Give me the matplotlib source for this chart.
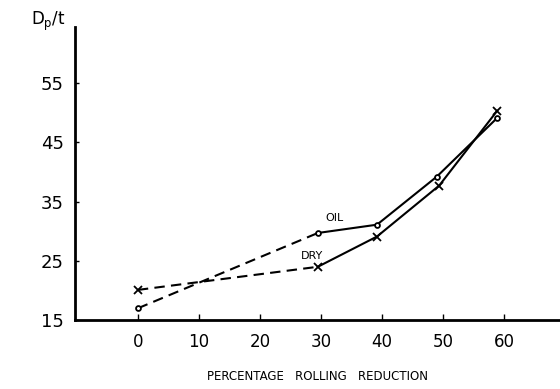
import matplotlib
matplotlib.use("Agg")
import matplotlib.pyplot as plt

# Data
oil_x = [0, 29.5, 39.2, 49.0, 58.9]
oil_y = [17.0, 29.7, 31.1, 39.2, 49.1]
dry_x = [0, 29.5, 39.2, 49.4, 58.9]
dry_y = [20.1, 24.0, 29.1, 37.7, 50.3]
x_ticks = [0, 10, 20, 30, 40, 50, 60]
y_ticks = [15, 25, 35, 45, 55]

plt.rcParams['font.family'] = ['DejaVu Sans']

fig = plt.figure(figsize=(5.6, 3.89), dpi=100)
ax = fig.add_axes([0.134, 0.177, 0.866, 0.753])

# dashed part up to index 1, solid after
for xs, ys, mk, ms in [(oil_x, oil_y, 'o', 3.5), (dry_x, dry_y, 'x', 6)]:
    ax.plot(xs[:2], ys[:2], color='black', lw=1.5, ls=(0, (5, 3)))
    ax.plot(xs[1:], ys[1:], color='black', lw=1.5, ls='-')
    ax.plot(xs, ys, ls='none', marker=mk, ms=ms, mfc='white', mec='black', mew=1.3, color='black')

ax.text(32.3, 32.3, 'OIL', fontsize=8, ha='center', va='center')
ax.text(28.5, 25.8, 'DRY', fontsize=8, ha='center', va='center')

ax.set_xlim(-10.3, 69.2)
ax.set_ylim(15, 64.4)
ax.set_xticks(x_ticks)
ax.set_yticks(y_ticks)
ax.tick_params(axis='x', direction='in', length=4, width=1, labelsize=12, pad=9)
ax.tick_params(axis='y', direction='in', length=3, width=1, labelsize=13, pad=8)
for s in ['top', 'right']:
    ax.spines[s].set_visible(False)
for s in ['left', 'bottom']:
    ax.spines[s].set_linewidth(2)

ax.set_xlabel('PERCENTAGE   ROLLING   REDUCTION', fontsize=8.5, labelpad=14)
fig.text(0.055, 0.945, r'$\mathregular{D_p/t}$', fontsize=12, ha='left', va='center')

fig.savefig('out.png', dpi=100)
